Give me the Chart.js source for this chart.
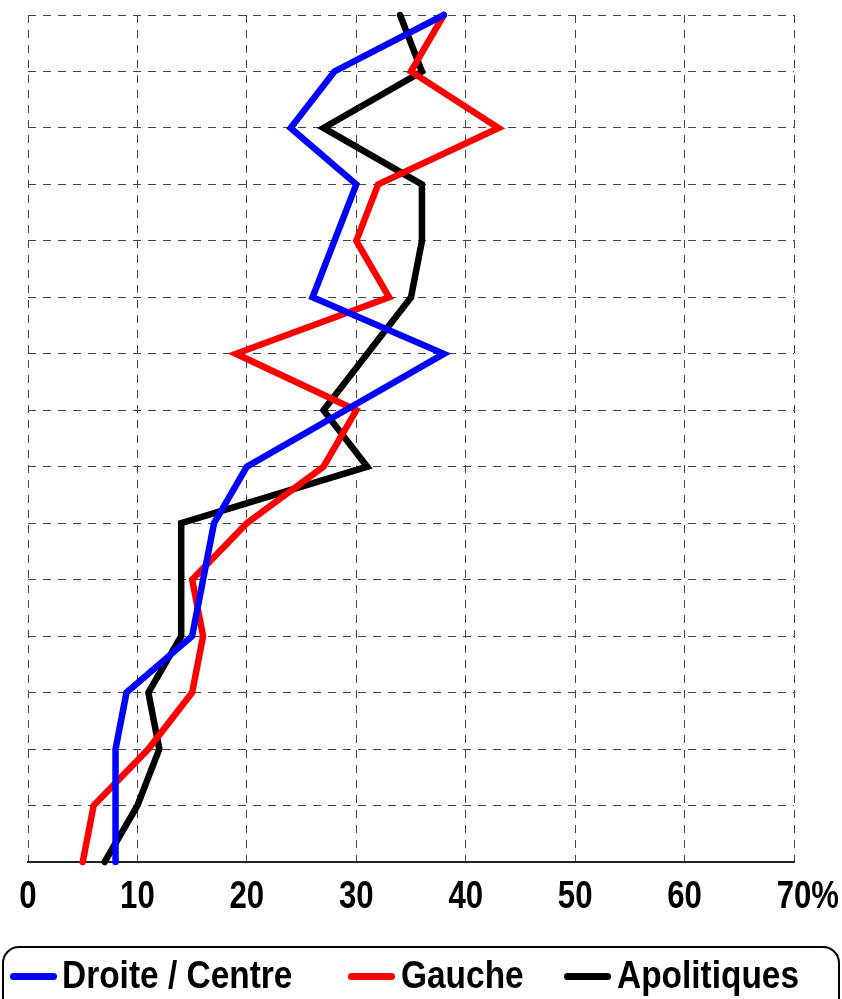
<!DOCTYPE html>
<html>
<head>
<meta charset="utf-8">
<script src="https://cdn.jsdelivr.net/npm/chart.js@4/dist/chart.umd.min.js"></script>
<style>
  html, body { margin: 0; padding: 0; background: #fff; }
  body { width: 842px; height: 999px; position: relative; overflow: hidden;
         font-family: 'Liberation Sans', Arial, sans-serif; }
  #wrap { position: absolute; left: 0; top: 0; width: 842px; height: 999px; }
  #legendBox { position: absolute; left: 2px; top: 946px; width: 838px; height: 110px;
               border: 2.5px solid #000; border-radius: 17px; box-sizing: border-box; }
  .swatch { position: absolute; top: 973px; width: 47px; height: 7px; border-radius: 4px; }
  .ltext { position: absolute; top: 956px; font-size: 38px; line-height: 38px;
           font-weight: bold; color: #000; white-space: nowrap;
           transform: scaleX(0.88); transform-origin: 0 50%; }
</style>
</head>
<body>
<div id="wrap"><canvas id="chart"></canvas></div>
<div id="legendBox"></div>
<div id="legend"></div>
<script>
// Rows of the profile, top to bottom
const categories = ['1', '2', '3', '4', '5', '6', '7', '8', '9', '10', '11', '12', '13', '14', '15', '16'];

// Shares per row, in percent
const droiteCentre = [38, 28, 24, 30, 28, 26, 38, 29, 20, 17, 16, 15, 9, 8, 8, 8];
const gauche       = [38, 35, 43, 32, 30, 33, 19, 30, 27, 20, 15, 16, 15, 11, 6, 5];
const apolitiques  = [34, 36, 27, 36, 36, 35, 31, 27, 31, 14, 14, 14, 11, 12, 10, 7];

// Value axis ticks
const tickValues = [0, 10, 20, 30, 40, 50, 60, 70];
const tickLabels = ['0', '10', '20', '30', '40', '50', '60', '70%'];

const seriesNames  = ['Droite / Centre', 'Gauche', 'Apolitiques'];
const seriesColors = ['#0000ff', '#ff0000', '#000000'];

const FONT = "'Liberation Sans', Arial, sans-serif";
const NARROW = 0.82;   // horizontal squeeze giving a narrow face
Chart.defaults.font.family = FONT;

function lineSet(label, data, color) {
  return {
    label, data,
    borderColor: color, backgroundColor: color,
    borderWidth: 6.5, pointRadius: 0, pointHoverRadius: 0,
    borderJoinStyle: 'miter', borderCapStyle: 'round',
    tension: 0, fill: false, clip: false
  };
}

// Narrow tick labels under the value axis; the number sits on its grid line
// and a unit suffix hangs to its right.
const narrowTicks = {
  id: 'narrowTicks',
  afterDraw(chart) {
    const xs = chart.scales.x;
    const ctx = chart.ctx;
    ctx.save();
    ctx.font = 'bold 38px ' + FONT;
    ctx.fillStyle = '#000';
    ctx.textBaseline = 'middle';
    ctx.textAlign = 'left';
    const y = chart.chartArea.bottom + 36;
    tickValues.forEach((v, i) => {
      const label = tickLabels[i];
      const num = label.replace('%', '');
      const w = ctx.measureText(num).width;
      ctx.save();
      ctx.translate(xs.getPixelForValue(v), y);
      ctx.scale(NARROW, 1);
      ctx.fillText(label, -w / 2, 0);
      ctx.restore();
    });
    ctx.restore();
  }
};

const gridDash = [8, 7];

new Chart(document.getElementById('chart'), {
  type: 'line',
  data: {
    labels: categories,
    datasets: [
      lineSet(seriesNames[0], droiteCentre, seriesColors[0]),
      lineSet(seriesNames[1], gauche, seriesColors[1]),
      lineSet(seriesNames[2], apolitiques, seriesColors[2])
    ]
  },
  options: {
    indexAxis: 'y',
    responsive: true,
    maintainAspectRatio: false,
    animation: false,
    layout: { padding: { left: 28, right: 48, top: 15, bottom: 137 } },
    plugins: { legend: { display: false }, tooltip: { enabled: false } },
    scales: {
      x: {
        type: 'linear', min: 0, max: 70,
        ticks: { stepSize: 10, display: false },
        grid: { color: '#444', lineWidth: 1, drawTicks: false },
        border: { display: true, color: '#222', width: 2, dash: gridDash }
      },
      y: {
        type: 'category', offset: false,
        ticks: { display: false },
        grid: { color: '#444', lineWidth: 1, drawTicks: false },
        border: { display: false, dash: gridDash }
      }
    }
  },
  plugins: [narrowTicks]
});

// HTML legend below the plot
const legend = document.getElementById('legend');
const swatchLeft = [10, 348, 564];
const textLeft = [62, 401, 617];
seriesNames.forEach((name, i) => {
  const sw = document.createElement('div');
  sw.className = 'swatch';
  sw.style.left = swatchLeft[i] + 'px';
  sw.style.background = seriesColors[i];
  legend.appendChild(sw);
  const tx = document.createElement('div');
  tx.className = 'ltext';
  tx.style.left = textLeft[i] + 'px';
  tx.textContent = name;
  legend.appendChild(tx);
});
</script>
</body>
</html>
